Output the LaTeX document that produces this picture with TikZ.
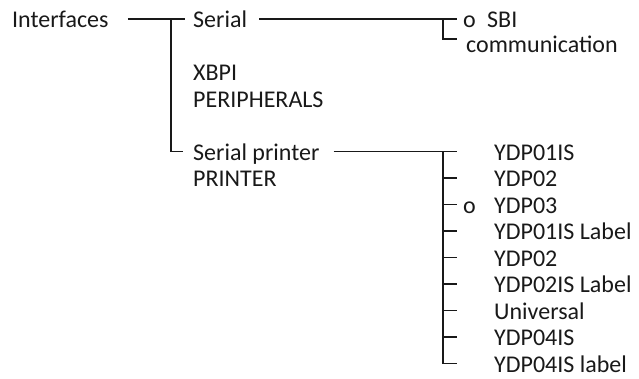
\documentclass[tikz,border=0pt]{standalone}
\usepackage{fontspec}
\setmainfont{Carlito}
\usepackage{tikz}
\usetikzlibrary{positioning, calc}
\tikzstyle{entry} = [
  inner sep=0pt, anchor=west, text height=17pt, text depth=0pt,
  font=\fontsize{24}{28}\selectfont, text=black!90
]
\tikzstyle{branch} = [line width=1.3pt, black!90]

\begin{document}
\begin{tikzpicture}[x=1pt, y=-1pt]
  \useasboundingbox (0,0) rectangle (639,378);

  % Top level
  \node[entry] (iface) at (12,19) {Interfaces};

  % Second level
  \node[entry] (serial) at (193,19) {Serial};
  \node[entry] (xbpi) at (193,72) {XBPI};
  \node[entry] (periph) at (193,98.5) {PERIPHERALS};
  \node[entry] (serprn) at (193,151.5) {Serial printer};
  \node[entry] (printer) at (193,178) {PRINTER};

  % Serial choices
  \node[entry] (sbimark) at (463,19) {o};
  \node[entry] (sbi) at (487,19) {SBI};
  \node[entry] (comm) at (466,44) {communication};

  % Printer choices
  \node[entry] (ydpa) at (494,151.5) {YDP01IS};
  \node[entry] (ydpb) at (494,178) {YDP02};
  \node[entry] (ydpcmark) at (463,204.5) {o};
  \node[entry] (ydpc) at (494,204.5) {YDP03};
  \node[entry] (ydpd) at (494,231) {YDP01IS Label};
  \node[entry] (ydpe) at (494,257.5) {YDP02};
  \node[entry] (ydpf) at (494,284) {YDP02IS Label};
  \node[entry] (ydpg) at (494,310.5) {Universal};
  \node[entry] (ydph) at (494,337) {YDP04IS};
  \node[entry] (ydpi) at (494,363.5) {YDP04IS label};

  % Branch points
  \coordinate (ifacejoin) at (171,19);
  \coordinate (sbijoin) at (443,19);
  \coordinate (commend) at (457,39);
  \coordinate (prnjoin) at (443,151.5);

  % Connectors
  \draw[branch] ([xshift=19pt]iface.east) -- ([xshift=-8pt]serial.west);
  \draw[branch] (ifacejoin) |- ([xshift=-10pt]serprn.west);
  \draw[branch] ([xshift=12pt]serial.east) -- ([xshift=-6pt]sbimark.west);
  \draw[branch] (sbijoin) |- (commend);
  \draw[branch] ([xshift=14pt]serprn.east) -- ([xshift=-6pt]ydpcmark.west |- ydpa.west);
  \draw[branch] (prnjoin) |- ([xshift=-6pt]ydpcmark.west |- ydpi.west);
  \draw[branch] (prnjoin |- ydpb.west) -- ([xshift=-6pt]ydpcmark.west |- ydpb.west);
  \draw[branch] (prnjoin |- ydpc.west) -- ([xshift=-6pt]ydpcmark.west);
  \draw[branch] (prnjoin |- ydpd.west) -- ([xshift=-6pt]ydpcmark.west |- ydpd.west);
  \draw[branch] (prnjoin |- ydpe.west) -- ([xshift=-6pt]ydpcmark.west |- ydpe.west);
  \draw[branch] (prnjoin |- ydpf.west) -- ([xshift=-6pt]ydpcmark.west |- ydpf.west);
  \draw[branch] (prnjoin |- ydpg.west) -- ([xshift=-6pt]ydpcmark.west |- ydpg.west);
  \draw[branch] (prnjoin |- ydph.west) -- ([xshift=-6pt]ydpcmark.west |- ydph.west);

\end{tikzpicture}
\end{document}
